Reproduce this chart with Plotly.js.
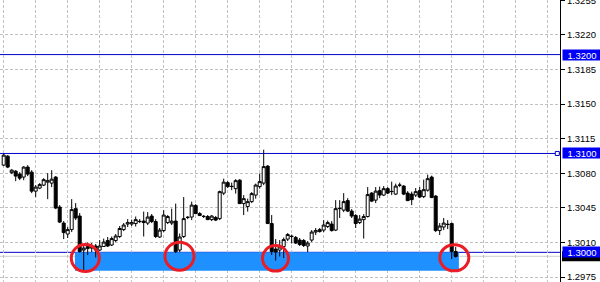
<!DOCTYPE html>
<html>
<head>
<meta charset="utf-8">
<script src="https://cdn.plot.ly/plotly-3.0.1.min.js"></script>
<style>
  html, body { margin: 0; padding: 0; background: #ffffff; }
  #chart { width: 600px; height: 282px; }
</style>
</head>
<body>
<div id="chart"></div>
<script>
// EURUSD-style price bars (open / high / low / close)
const opens = [1.30882,1.30973,1.30806,1.30821,1.30791,1.30761,1.30862,1.30811,1.30619,1.30650,
  1.30680,1.30710,1.30700,1.30761,1.30458,1.30296,1.30185,1.30230,1.30442,1.30367,
  1.30023,1.30038,1.30043,1.30064,1.30023,1.30059,1.30119,1.30074,1.30119,1.30160,
  1.30230,1.30286,1.30286,1.30291,1.30311,1.30316,1.30296,1.30367,1.30311,1.30155,
  1.30220,1.30301,1.30296,1.30316,1.30023,1.30160,1.30352,1.30357,1.30473,1.30392,
  1.30362,1.30362,1.30331,1.30352,1.30341,1.30599,1.30705,1.30665,1.30644,1.30730,
  1.30493,1.30463,1.30513,1.30579,1.30665,1.30700,1.30872,1.30291,1.30033,1.30023,
  1.30059,1.30134,1.30160,1.30150,1.30124,1.30119,1.30064,1.30124,1.30205,1.30210,
  1.30225,1.30261,1.30286,1.30225,1.30442,1.30427,1.30523,1.30417,1.30372,1.30301,
  1.30331,1.30362,1.30599,1.30528,1.30624,1.30579,1.30644,1.30614,1.30589,1.30678,
  1.30670,1.30599,1.30589,1.30579,1.30624,1.30564,1.30629,1.30761,1.30569,1.30220,
  1.30256,1.30281,1.30291,1.30008];
const highs = [1.30998,1.30983,1.30841,1.30831,1.30811,1.30872,1.30882,1.30831,1.30680,1.30700,
  1.30750,1.30801,1.30831,1.30771,1.30478,1.30316,1.30256,1.30538,1.30498,1.30397,
  1.30064,1.30099,1.30094,1.30084,1.30124,1.30139,1.30155,1.30160,1.30185,1.30266,
  1.30296,1.30336,1.30331,1.30362,1.30336,1.30412,1.30407,1.30387,1.30336,1.30246,
  1.30427,1.30377,1.30442,1.30493,1.30190,1.30559,1.30367,1.30513,1.30488,1.30407,
  1.30377,1.30377,1.30377,1.30367,1.30624,1.30745,1.30720,1.30705,1.30740,1.30740,
  1.30579,1.30543,1.30609,1.30695,1.30796,1.31038,1.30882,1.30377,1.30134,1.30124,
  1.30150,1.30195,1.30180,1.30165,1.30145,1.30134,1.30114,1.30225,1.30246,1.30246,
  1.30326,1.30321,1.30316,1.30528,1.30528,1.30599,1.30548,1.30437,1.30387,1.30377,
  1.30387,1.30660,1.30609,1.30660,1.30665,1.30670,1.30660,1.30715,1.30695,1.30705,
  1.30680,1.30619,1.30614,1.30650,1.30660,1.30735,1.30786,1.30776,1.30579,1.30296,
  1.30347,1.30326,1.30301,1.30054];
const lows = [1.30872,1.30852,1.30791,1.30720,1.30730,1.30730,1.30771,1.30599,1.30559,1.30639,
  1.30670,1.30538,1.30660,1.30437,1.30296,1.30134,1.30145,1.30205,1.30326,1.29998,
  1.29821,1.29973,1.30003,1.29947,1.30013,1.30054,1.30054,1.30064,1.30104,1.30145,
  1.30215,1.30256,1.30266,1.30261,1.30296,1.30160,1.30276,1.30296,1.30145,1.30145,
  1.30205,1.30286,1.30276,1.29993,1.30003,1.30145,1.30336,1.30326,1.30387,1.30367,
  1.30347,1.30326,1.30316,1.30316,1.30326,1.30579,1.30650,1.30629,1.30594,1.30488,
  1.30377,1.30412,1.30498,1.30543,1.30644,1.30680,1.30286,1.29973,1.29917,1.29958,
  1.29942,1.30114,1.30089,1.30084,1.30064,1.30054,1.30003,1.30104,1.30175,1.30200,
  1.30205,1.30246,1.30210,1.30215,1.30347,1.30407,1.30407,1.30347,1.30246,1.30286,
  1.30139,1.30352,1.30508,1.30498,1.30548,1.30569,1.30589,1.30579,1.30579,1.30660,
  1.30579,1.30518,1.30478,1.30559,1.30548,1.30548,1.30614,1.30548,1.30205,1.30175,
  1.30225,1.30235,1.29932,1.29947];
const closes = [1.30983,1.30862,1.30831,1.30771,1.30750,1.30862,1.30791,1.30619,1.30660,1.30685,
  1.30735,1.30725,1.30740,1.30448,1.30306,1.30200,1.30230,1.30432,1.30347,1.30008,
  1.30043,1.30059,1.30064,1.30023,1.30064,1.30104,1.30064,1.30139,1.30165,1.30241,
  1.30276,1.30301,1.30301,1.30331,1.30313,1.30301,1.30357,1.30311,1.30160,1.30225,
  1.30377,1.30362,1.30316,1.30008,1.30155,1.30341,1.30354,1.30478,1.30392,1.30372,
  1.30364,1.30331,1.30367,1.30326,1.30614,1.30710,1.30665,1.30667,1.30725,1.30493,
  1.30543,1.30513,1.30594,1.30680,1.30715,1.30867,1.30291,1.30008,1.30003,1.30054,
  1.30129,1.30180,1.30162,1.30094,1.30079,1.30069,1.30094,1.30205,1.30220,1.30230,
  1.30276,1.30301,1.30220,1.30442,1.30445,1.30513,1.30417,1.30367,1.30291,1.30336,
  1.30362,1.30584,1.30518,1.30619,1.30579,1.30644,1.30599,1.30616,1.30670,1.30680,
  1.30589,1.30523,1.30533,1.30614,1.30559,1.30634,1.30745,1.30554,1.30220,1.30266,
  1.30296,1.30283,1.30008,1.29958];

// Horizontal levels, the support zone and the current bid
const levels = [1.3200, 1.3100, 1.3000];
const levelLabels = ['1.3200', '1.3100', '1.3000'];
const zoneTop = 1.3000, zoneBottom = 1.29814;
const zoneStartBar = 17.8, zoneEndBar = 113.8;
const bid = 1.29960;
// Touches of the support zone (bar index, price)
const touchBars = [20.4, 43.95, 67.95, 112.65];
const touchPrices = [1.29942, 1.29961, 1.29940, 1.29944];
const touchRadii = [[14, 13.5], [14.5, 14], [13, 12.8], [14.5, 13]];

const bars = opens.map((_, i) => i);

const labelFont = { family: '"Liberation Sans", Arial, sans-serif', size: 9.5, color: '#000000' };
const levelBlue = 'rgb(0,0,205)';

const trace = {
  type: 'candlestick',
  x: bars, open: opens, high: highs, low: lows, close: closes,
  increasing: { line: { color: '#000000', width: 1 }, fillcolor: '#ffffff' },
  decreasing: { line: { color: '#000000', width: 1 }, fillcolor: '#000000' },
  whiskerwidth: 0,
  hoverinfo: 'skip',
  showlegend: false
};

const shapes = [];
shapes.push({
  type: 'rect', layer: 'between', xref: 'x', yref: 'y',
  x0: zoneStartBar, x1: zoneEndBar, y0: zoneBottom, y1: zoneTop,
  fillcolor: 'rgb(30,144,255)', line: { width: 0 }
});
shapes.push({
  type: 'line', layer: 'between', xref: 'paper', yref: 'y',
  x0: 0, x1: 1, y0: bid, y1: bid,
  line: { color: 'rgba(192,192,192,0.8)', width: 1 }
});
levels.forEach(v => shapes.push({
  type: 'line', layer: 'between', xref: 'paper', yref: 'y',
  x0: 0, x1: 1, y0: v, y1: v,
  line: { color: levelBlue, width: 1 }
}));
// anchor square at the end of the 1.3100 line
shapes.push({
  type: 'rect', layer: 'above', xref: 'x', yref: 'y',
  xsizemode: 'pixel', ysizemode: 'pixel',
  xanchor: 138.4, yanchor: levels[1], x0: -2, x1: 2, y0: -2, y1: 2,
  fillcolor: '#ffffff', line: { color: levelBlue, width: 1 }
});
// bid price tag on the axis, mostly covered by the 1.3000 tag
shapes.push({
  type: 'rect', layer: 'above', xref: 'paper', yref: 'y',
  xsizemode: 'pixel', ysizemode: 'pixel',
  xanchor: 1, yanchor: bid, x0: 2, x1: 40, y0: -5, y1: 5,
  fillcolor: '#000000', line: { width: 0 }
});
touchBars.forEach((b, k) => shapes.push({
  type: 'circle', layer: 'above', xref: 'x', yref: 'y',
  xsizemode: 'pixel', ysizemode: 'pixel',
  xanchor: b, yanchor: touchPrices[k],
  x0: -touchRadii[k][0], x1: touchRadii[k][0],
  y0: -touchRadii[k][1], y1: touchRadii[k][1],
  line: { color: 'rgb(235,28,36)', width: 3 }
}));

const annotations = levels.map((v, k) => ({
  xref: 'paper', yref: 'y', x: 1, y: v, xanchor: 'left', yanchor: 'middle',
  xshift: 2, showarrow: false, text: levelLabels[k], align: 'center',
  width: 38, height: 10, borderpad: 0, bgcolor: 'rgb(0,0,250)',
  font: Object.assign({}, labelFont, { color: '#ffffff' })
}));

const layout = {
  width: 600, height: 282,
  margin: { l: 0, r: 40, t: 0, b: 0, pad: 0 },
  paper_bgcolor: '#ffffff', plot_bgcolor: '#ffffff',
  showlegend: false,
  boxgap: 0.25, boxgroupgap: 0,
  xaxis: {
    range: [-0.925, 139.075], tick0: 0, dtick: 8,
    showgrid: true, gridcolor: '#c0c0c0', gridwidth: 1, griddash: '3px,2px',
    showticklabels: false, ticks: '', zeroline: false, showline: false,
    rangeslider: { visible: false }, fixedrange: true
  },
  yaxis: {
    side: 'right', range: [1.29700, 1.32552],
    tick0: 1.2975, dtick: 0.0035, tickformat: '.4f',
    showgrid: true, gridcolor: '#c0c0c0', gridwidth: 1, griddash: '3px,2px',
    showline: true, linecolor: '#000000', linewidth: 1,
    ticks: 'outside', ticklen: 4, tickwidth: 1, tickcolor: '#000000',
    tickfont: labelFont, ticklabeloverflow: 'allow', zeroline: false, fixedrange: true
  },
  shapes: shapes,
  annotations: annotations
};

Plotly.newPlot('chart', [trace], layout, { displayModeBar: false, staticPlot: true });
</script>
</body>
</html>
